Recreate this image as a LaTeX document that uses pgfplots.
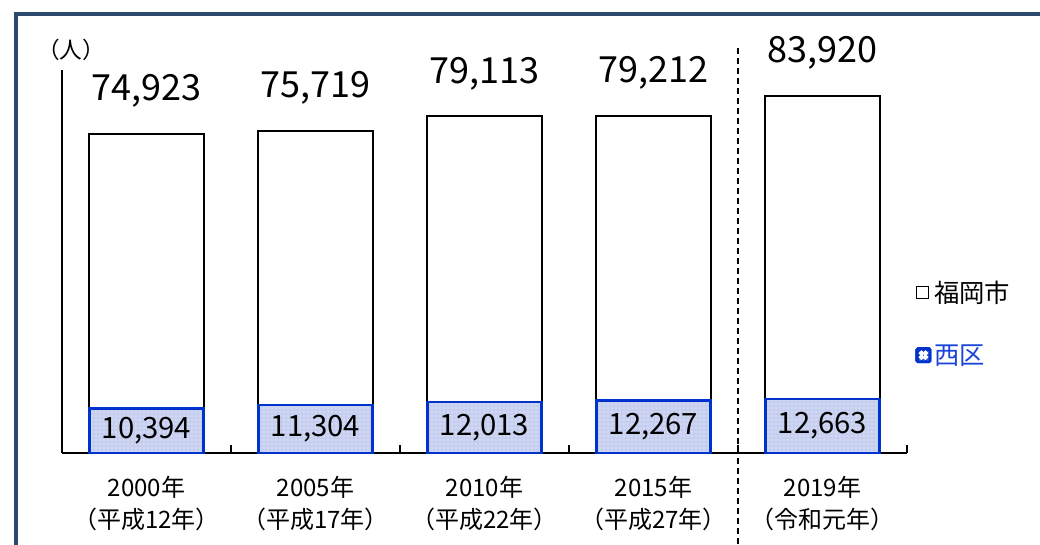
\documentclass[border=0pt]{standalone}
\usepackage{fontspec}
\setmainfont{Noto Sans CJK JP}
\usepackage{pgfplots}
\pgfplotsset{compat=1.18}
\usetikzlibrary{patterns}
\definecolor{frame}{HTML}{2C4A6E}
\definecolor{nishi}{HTML}{0033CC}
\definecolor{nishitext}{HTML}{1A45D6}
\definecolor{nishifill}{HTML}{C6CFEF}
\begin{document}
\begin{tikzpicture}
\useasboundingbox (0,0) rectangle (780pt,408pt);
\draw[frame, line width=3pt] (12pt,-5pt) -- (12pt,397.5pt) -- (790pt,397.5pt);
\node[font=\fontsize{17}{19}\selectfont] at (53.25pt,370.5pt) {（人）};
\begin{axis}[
  at={(46.5pt,68.25pt)}, anchor=south west,
  scale only axis, width=633.75pt, height=287.4pt,
  xmin=-0.5, xmax=4.5, ymin=0, ymax=90000,
  axis x line=bottom, axis y line=left,
  axis line style={line width=1.5pt, -},
  ytick=\empty,
  xtick={0,1,2,3,4},
  xticklabels={{\textnormal{2000年}\\\textnormal{（平成12年）}},{\textnormal{2005年}\\\textnormal{（平成17年）}},{\textnormal{2010年}\\\textnormal{（平成22年）}},{\textnormal{2015年}\\\textnormal{（平成27年）}},{\textnormal{2019年}\\\textnormal{（令和元年）}}},
  major tick length=0pt,
  extra x ticks={-0.5,0.5,1.5,2.5,3.5,4.5},
  extra x tick labels={},
  extra x tick style={major tick length=6pt, tick align=inside, tick style={line width=1.2pt, black}},
  xticklabel style={align=center, font=\fontsize{18}{24}\selectfont, yshift=-14pt},
  clip=false,
  ybar, bar width=0.675, bar shift=0pt,
  /pgf/number format/assume math mode=true,
  legend style={at={(1.005,0.338)}, anchor=west, draw=none, fill=none,
    font=\fontsize{19}{22}\selectfont, row sep=26pt, legend cell align=left},
]
\addplot[draw=black, fill=white, line width=1.5pt,
  legend image code/.code={\draw[black, line width=1pt, fill=white] (0pt,-4.5pt) rectangle (9pt,4.5pt);},
  nodes near coords={\pgfmathprintnumber[fixed, precision=0, 1000 sep={,}]{\pgfplotspointmeta}},
  nodes near coords style={anchor=center, yshift=32pt, font=\fontsize{27}{30}\selectfont, black}]
  coordinates {(0,74923) (1,75719) (2,79113) (3,79212) (4,83920)};
\addlegendentry{福岡市}
\addplot[draw=nishi, fill=nishifill, line width=2pt,
  postaction={pattern=dots, pattern color=white},
  legend image code/.code={\fill[nishi, rounded corners=1pt] (0pt,-5pt) rectangle (10pt,5pt);
    \fill[white] (3.5pt,1.5pt) circle (0.7pt) (6.5pt,1.5pt) circle (0.7pt) (3.5pt,-1.5pt) circle (0.7pt) (6.5pt,-1.5pt) circle (0.7pt);},
  visualization depends on={rawy \as \ry},
  nodes near coords={\pgfmathprintnumber[fixed, precision=0, 1000 sep={,}]{\pgfplotspointmeta}},
  nodes near coords style={anchor=center, shift={(axis direction cs:0,-0.5*\ry)}, font=\fontsize{22}{26}\selectfont, black}]
  coordinates {(0,10394) (1,11304) (2,12013) (3,12267) (4,12663)};
\addlegendentry{\textcolor{nishitext}{西区}}
\draw[black, line width=1.5pt, dash pattern=on 4.5pt off 3pt] (axis cs:3.5,95100) -- (axis cs:3.5,-21400);
\end{axis}
\end{tikzpicture}
\end{document}
